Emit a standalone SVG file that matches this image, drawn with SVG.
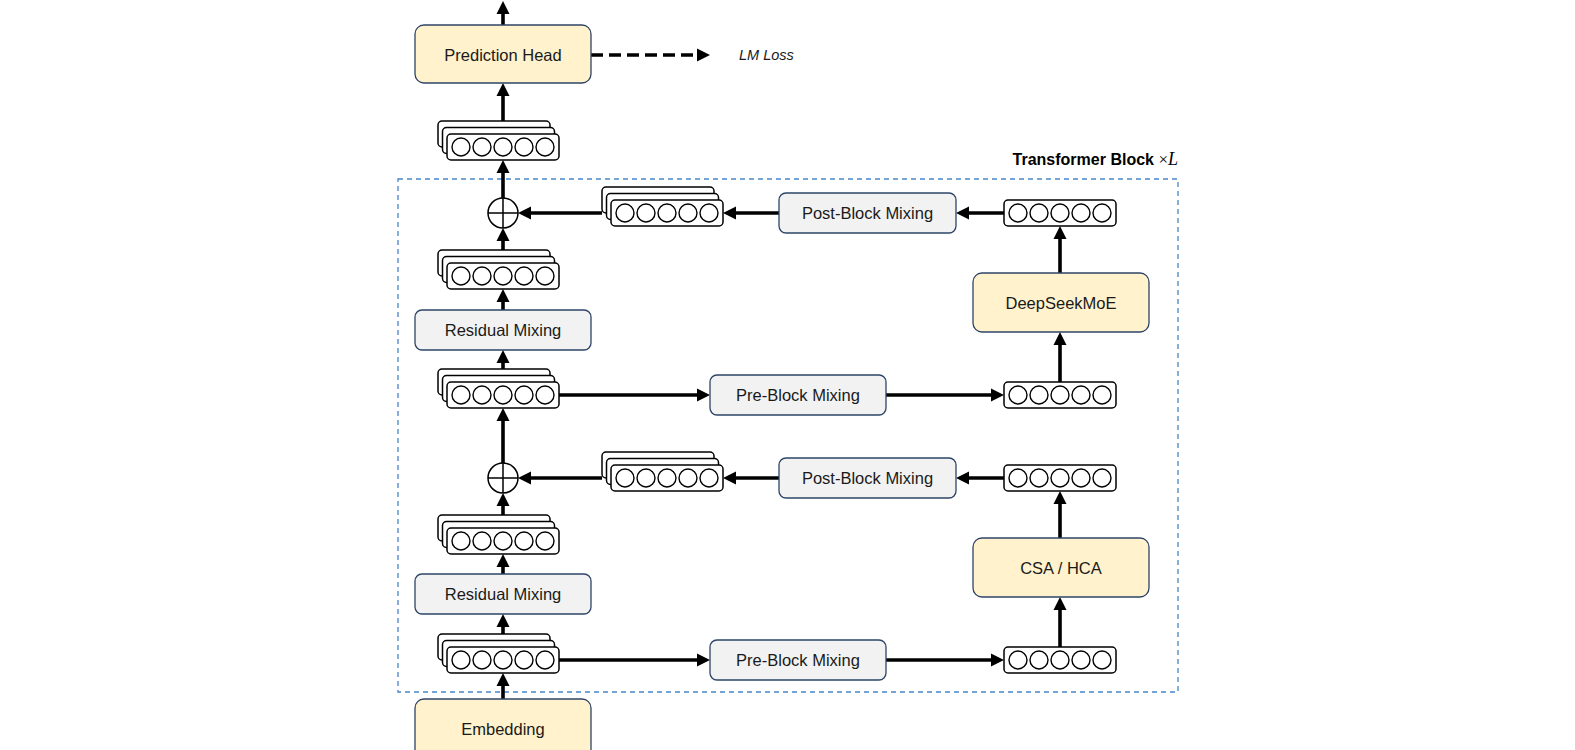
<svg xmlns="http://www.w3.org/2000/svg" xmlns:xlink="http://www.w3.org/1999/xlink" width="1575" height="750" viewBox="0 0 1575 750">
<style>
.lbl{font-family:"Liberation Sans",Arial,sans-serif;font-size:16.5px;fill:#1a1a1a;text-anchor:middle;dominant-baseline:central}
.yel{fill:#FFF2CC;stroke:#2E4467;stroke-width:1.3}
.gry{fill:#F2F2F2;stroke:#2E4467;stroke-width:1.3}
.vbox{fill:#fff;stroke:#000;stroke-width:1.5}
.cir{fill:#fff;stroke:#000;stroke-width:1.4}
.conn line{stroke:#000;stroke-width:3.6;marker-end:url(#ah)}
.dash{stroke-dasharray:12 6}
</style>
<defs>
<marker id="ah" markerUnits="userSpaceOnUse" markerWidth="14" markerHeight="14" refX="0" refY="6.5" orient="auto" overflow="visible">
<path d="M0,0 L13,6.5 L0,13 z" fill="#000"/>
</marker>
<g id="vec">
<rect class="vbox" x="0" y="0" width="112" height="26" rx="4"/>
<circle class="cir" cx="14" cy="13" r="9"/>
<circle class="cir" cx="35" cy="13" r="9"/>
<circle class="cir" cx="56" cy="13" r="9"/>
<circle class="cir" cx="77" cy="13" r="9"/>
<circle class="cir" cx="98" cy="13" r="9"/>
</g>
<g id="stk">
<rect class="vbox" x="-9" y="-13" width="112" height="26" rx="4"/>
<rect class="vbox" x="-4.5" y="-6.5" width="112" height="26" rx="4"/>
<use href="#vec"/>
</g>
<g id="plus">
<circle cx="0" cy="0" r="15" fill="#fff" stroke="#000" stroke-width="1.5"/>
<line x1="-15" y1="0" x2="15" y2="0" stroke="#000" stroke-width="1.5"/>
<line x1="0" y1="-15" x2="0" y2="15" stroke="#000" stroke-width="1.5"/>
</g>
</defs>
<rect width="1575" height="750" fill="#fff"/>

<g id="block-frame">
<rect x="398" y="179" width="780" height="513" fill="none" stroke="#4A86C8" stroke-width="1.3" stroke-dasharray="5 4"/>
<text x="1178" y="165" text-anchor="end" font-family="Liberation Sans,Arial,sans-serif" font-size="16" font-weight="bold" fill="#000">Transformer Block <tspan font-family="Liberation Serif,serif" font-weight="normal" font-size="17">×</tspan><tspan font-family="Liberation Serif,serif" font-weight="normal" font-style="italic" font-size="18">L</tspan></text>
</g>

<g id="connectors" class="conn">
<line x1="503" y1="25" x2="503" y2="14"/>
<line x1="503" y1="122" x2="503" y2="96"/>
<line x1="503" y1="198" x2="503" y2="173"/>
<line x1="602" y1="213" x2="531" y2="213"/>
<line x1="779" y1="213" x2="736" y2="213"/>
<line x1="1004" y1="213" x2="969" y2="213"/>
<line x1="1060" y1="273" x2="1060" y2="239"/>
<line x1="503" y1="250" x2="503" y2="241"/>
<line x1="503" y1="310" x2="503" y2="302"/>
<line x1="503" y1="369" x2="503" y2="363"/>
<line x1="559" y1="395" x2="697" y2="395"/>
<line x1="886" y1="395" x2="991" y2="395"/>
<line x1="1060" y1="382" x2="1060" y2="345"/>
<line x1="503" y1="463" x2="503" y2="421"/>
<line x1="602" y1="478" x2="531" y2="478"/>
<line x1="779" y1="478" x2="736" y2="478"/>
<line x1="1004" y1="478" x2="969" y2="478"/>
<line x1="1060" y1="538" x2="1060" y2="504"/>
<line x1="1060" y1="647" x2="1060" y2="610"/>
<line x1="503" y1="515" x2="503" y2="506"/>
<line x1="503" y1="574" x2="503" y2="567"/>
<line x1="503" y1="634" x2="503" y2="627"/>
<line x1="559" y1="660" x2="697" y2="660"/>
<line x1="886" y1="660" x2="991" y2="660"/>
<line x1="503" y1="699" x2="503" y2="686"/>
<line class="dash" x1="591" y1="55" x2="697" y2="55"/>
</g>

<g id="prediction-head">
<rect class="yel" x="415" y="25" width="176" height="58" rx="9"/>
<text class="lbl" x="503" y="55">Prediction Head</text>
</g>
<g id="lm-loss">
<text x="739" y="60" font-family="Liberation Sans,Arial,sans-serif" font-size="14.5" font-style="italic" fill="#1a1a1a">LM Loss</text>
</g>
<g id="out-stack"><use href="#stk" x="447" y="134"/></g>
<g id="plus-top"><use href="#plus" x="503" y="213"/></g>
<g id="post-stack-top"><use href="#stk" x="611" y="200"/></g>
<g id="post-mix-top">
<rect class="gry" x="779" y="193" width="177" height="40" rx="7"/>
<text class="lbl" x="867.5" y="213">Post-Block Mixing</text>
</g>
<g id="vec-moe-out"><use href="#vec" x="1004" y="200"/></g>
<g id="deepseekmoe">
<rect class="yel" x="973" y="273" width="176" height="59" rx="9"/>
<text class="lbl" x="1061" y="302.5">DeepSeekMoE</text>
</g>
<g id="res-stack-top"><use href="#stk" x="447" y="263"/></g>
<g id="res-mix-top">
<rect class="gry" x="415" y="310" width="176" height="40" rx="7"/>
<text class="lbl" x="503" y="330">Residual Mixing</text>
</g>
<g id="mid-stack"><use href="#stk" x="447" y="382"/></g>
<g id="pre-mix-top">
<rect class="gry" x="710" y="375" width="176" height="40" rx="7"/>
<text class="lbl" x="798" y="395">Pre-Block Mixing</text>
</g>
<g id="vec-moe-in"><use href="#vec" x="1004" y="382"/></g>
<g id="plus-low"><use href="#plus" x="503" y="478"/></g>
<g id="post-stack-low"><use href="#stk" x="611" y="465"/></g>
<g id="post-mix-low">
<rect class="gry" x="779" y="458" width="177" height="40" rx="7"/>
<text class="lbl" x="867.5" y="478">Post-Block Mixing</text>
</g>
<g id="vec-attn-out"><use href="#vec" x="1004" y="465"/></g>
<g id="csa-hca">
<rect class="yel" x="973" y="538" width="176" height="59" rx="9"/>
<text class="lbl" x="1061" y="567.5">CSA / HCA</text>
</g>
<g id="res-stack-low"><use href="#stk" x="447" y="528"/></g>
<g id="res-mix-low">
<rect class="gry" x="415" y="574" width="176" height="40" rx="7"/>
<text class="lbl" x="503" y="594">Residual Mixing</text>
</g>
<g id="in-stack"><use href="#stk" x="447" y="647"/></g>
<g id="pre-mix-low">
<rect class="gry" x="710" y="640" width="176" height="40" rx="7"/>
<text class="lbl" x="798" y="660">Pre-Block Mixing</text>
</g>
<g id="vec-attn-in"><use href="#vec" x="1004" y="647"/></g>
<g id="embedding">
<rect class="yel" x="415" y="699" width="176" height="60" rx="9"/>
<text class="lbl" x="503" y="729">Embedding</text>
</g>
</svg>
